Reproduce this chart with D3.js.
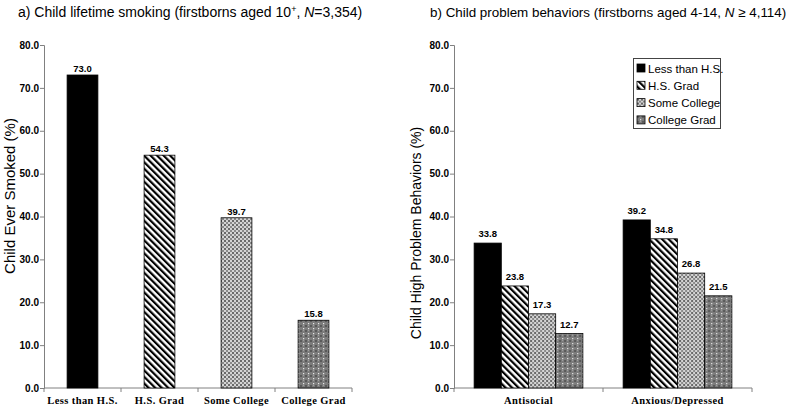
<!DOCTYPE html>
<html>
<head>
  <script src="https://d3js.org/d3.v7.min.js"></script>
  <style>
    body { margin: 0; background: #fff; }
    .tick text { font-family: Arial, "Liberation Sans", sans-serif; font-weight: bold; font-size: 10px; fill: #000; }
    .title { font-family: Arial, "Liberation Sans", sans-serif; font-size: 14px; }
    .ytitle { font-family: Arial, "Liberation Sans", sans-serif; font-size: 15px; }
    .val { font-family: Arial, "Liberation Sans", sans-serif; font-weight: bold; font-size: 9.5px; }
    .cat { font-family: "Liberation Serif", "Times New Roman", serif; font-weight: bold; font-size: 10.5px; letter-spacing: 0.4px; }
    .legend text { font-family: Arial, "Liberation Sans", sans-serif; font-size: 11.5px; }
  </style>
</head>
<body>
<script>
  var levels = ["Less than H.S.", "H.S. Grad", "Some College", "College Grad"];
  var smoking = [73.0, 54.3, 39.7, 15.8];
  var groups = ["Antisocial", "Anxious/Depressed"];
  var antisocial = [33.8, 23.8, 17.3, 12.7];
  var anxious = [39.2, 34.8, 26.8, 21.5];
  var yTicks = [0, 10, 20, 30, 40, 50, 60, 70, 80];

  var width = 800, height = 412;
  var axisColor = "#808080";

  var svg = d3.select("body").append("svg")
    .attr("width", width)
    .attr("height", height);

  // fill patterns
  var defs = svg.append("defs");

  var stripes = defs.append("pattern")
    .attr("id", "stripes")
    .attr("patternUnits", "userSpaceOnUse")
    .attr("width", 4.6).attr("height", 4.6)
    .attr("patternTransform", "rotate(-45)");
  stripes.append("rect").attr("width", 4.6).attr("height", 4.6).attr("fill", "#fff");
  stripes.append("rect").attr("width", 2.2).attr("height", 4.6).attr("fill", "#000");

  var check = defs.append("pattern")
    .attr("id", "check")
    .attr("patternUnits", "userSpaceOnUse")
    .attr("width", 4).attr("height", 4);
  check.append("rect").attr("width", 4).attr("height", 4).attr("fill", "#d4d4d4");
  check.append("rect").attr("width", 2).attr("height", 2).attr("fill", "#6a6a6a");
  check.append("rect").attr("x", 2).attr("y", 2).attr("width", 2).attr("height", 2).attr("fill", "#8a8a8a");

  var dots = defs.append("pattern")
    .attr("id", "dots")
    .attr("patternUnits", "userSpaceOnUse")
    .attr("width", 5).attr("height", 5);
  dots.append("rect").attr("width", 5).attr("height", 5).attr("fill", "#7c7c7c");
  dots.append("rect").attr("x", 0).attr("y", 0).attr("width", 2).attr("height", 2).attr("fill", "#5a5a5a");
  dots.append("rect").attr("x", 3).attr("y", 3).attr("width", 1.2).attr("height", 1.2).attr("fill", "#e8e8e8");
  dots.append("rect").attr("x", 3).attr("y", 0).attr("width", 1).attr("height", 1).attr("fill", "#a0a0a0");

  var fills = ["#000", "url(#stripes)", "url(#check)", "url(#dots)"];
  var color = d3.scaleOrdinal().domain(levels).range(fills);

  var y = d3.scaleLinear().domain([0, 80]).range([388, 45]);

  function yAxis(g, x0) {
    g.attr("transform", "translate(" + x0 + ",0)")
      .call(d3.axisLeft(y).tickValues(yTicks).tickFormat(d3.format(".1f")).tickSize(4).tickPadding(1));
    g.selectAll("path, line").attr("stroke", axisColor);
  }

  // ---------- panel a ----------
  var xa = d3.scaleBand().domain(levels).range([44, 352]).paddingInner(0.6).paddingOuter(0.3);

  svg.append("text").attr("class", "title").attr("x", 18).attr("y", 17)
    .html("a) Child lifetime smoking (firstborns aged 10<tspan dy='-5' font-size='9px'>+</tspan><tspan dy='5'>, </tspan><tspan font-style='italic'>N</tspan>=3,354)");

  svg.append("g").call(yAxis, 44);

  var gxa = svg.append("g").attr("transform", "translate(0,388)");
  gxa.append("line").attr("x1", 44).attr("x2", 352).attr("stroke", axisColor);
  gxa.selectAll(".bt").data(d3.range(levels.length + 1)).enter().append("line")
    .attr("x1", function(i) { return 44 + i * xa.step(); })
    .attr("x2", function(i) { return 44 + i * xa.step(); })
    .attr("y2", 4).attr("stroke", axisColor);
  gxa.selectAll(".cat").data(levels).enter().append("text")
    .attr("class", "cat").attr("text-anchor", "middle")
    .attr("x", function(d) { return xa(d) + xa.bandwidth() / 2; })
    .attr("y", 16).text(function(d) { return d; });

  svg.append("g").selectAll("rect").data(levels).enter().append("rect")
    .attr("x", function(d) { return xa(d); })
    .attr("y", function(d, i) { return y(smoking[i]); })
    .attr("width", xa.bandwidth())
    .attr("height", function(d, i) { return y(0) - y(smoking[i]); })
    .attr("fill", function(d) { return color(d); })
    .attr("stroke", "#000").attr("stroke-width", 0.8);

  svg.append("g").selectAll("text").data(levels).enter().append("text")
    .attr("class", "val").attr("text-anchor", "middle")
    .attr("x", function(d) { return xa(d) + xa.bandwidth() / 2; })
    .attr("y", function(d, i) { return y(smoking[i]) - 3; })
    .text(function(d, i) { return smoking[i].toFixed(1); });

  svg.append("text").attr("class", "ytitle").attr("text-anchor", "middle")
    .attr("transform", "translate(15,196) rotate(-90)")
    .text("Child Ever Smoked (%)");

  // ---------- panel b ----------
  var xb = d3.scaleBand().domain(groups).range([454, 752]).paddingInner(0.27).paddingOuter(0.135);
  var xi = d3.scaleBand().domain(levels).range([0, xb.bandwidth()]);
  var series = [antisocial, anxious];

  svg.append("text").attr("class", "title").attr("x", 430).attr("y", 17)
    .style("font-size", "13.4px")
    .html("b) Child problem behaviors (firstborns aged 4-14, <tspan font-style='italic'>N</tspan> \u2265 4,114)");

  svg.append("g").call(yAxis, 454);

  var gxb = svg.append("g").attr("transform", "translate(0,388)");
  gxb.append("line").attr("x1", 454).attr("x2", 752).attr("stroke", axisColor);
  gxb.selectAll(".bt").data(d3.range(groups.length + 1)).enter().append("line")
    .attr("x1", function(i) { return 454 + i * xb.step(); })
    .attr("x2", function(i) { return 454 + i * xb.step(); })
    .attr("y2", 4).attr("stroke", axisColor);
  gxb.selectAll(".cat").data(groups).enter().append("text")
    .attr("class", "cat").attr("text-anchor", "middle")
    .attr("x", function(d) { return xb(d) + xb.bandwidth() / 2; })
    .attr("y", 16).text(function(d) { return d; });

  var gg = svg.append("g").selectAll("g").data(groups).enter().append("g")
    .attr("transform", function(d) { return "translate(" + xb(d) + ",0)"; });

  gg.selectAll("rect").data(function(d, gi) { return levels.map(function(l, i) { return { l: l, v: series[gi][i] }; }); })
    .enter().append("rect")
    .attr("x", function(d) { return xi(d.l); })
    .attr("y", function(d) { return y(d.v); })
    .attr("width", xi.bandwidth())
    .attr("height", function(d) { return y(0) - y(d.v); })
    .attr("fill", function(d) { return color(d.l); })
    .attr("stroke", "#000").attr("stroke-width", 0.8);

  gg.selectAll("text").data(function(d, gi) { return levels.map(function(l, i) { return { l: l, v: series[gi][i] }; }); })
    .enter().append("text")
    .attr("class", "val").attr("text-anchor", "middle")
    .attr("x", function(d) { return xi(d.l) + xi.bandwidth() / 2; })
    .attr("y", function(d) { return y(d.v) - 6; })
    .text(function(d) { return d.v.toFixed(1); });

  svg.append("text").attr("class", "ytitle").attr("text-anchor", "middle")
    .style("font-size", "14px")
    .attr("transform", "translate(421,233) rotate(-90)")
    .text("Child High Problem Behaviors (%)");

  // legend
  var legend = svg.append("g").attr("class", "legend");
  legend.append("rect").attr("x", 633.5).attr("y", 58.5).attr("width", 87).attr("height", 70)
    .attr("fill", "#fff").attr("stroke", "#444").attr("stroke-width", 1);
  var li = legend.selectAll(".item").data(levels).enter().append("g")
    .attr("transform", function(d, i) { return "translate(637," + (64 + i * 17.3) + ")"; });
  li.append("rect").attr("width", 8).attr("height", 8)
    .attr("fill", function(d) { return color(d); })
    .attr("stroke", "#000").attr("stroke-width", 0.8);
  li.append("text").attr("x", 11).attr("y", 8.5).text(function(d) { return d; });
</script>
</body>
</html>
